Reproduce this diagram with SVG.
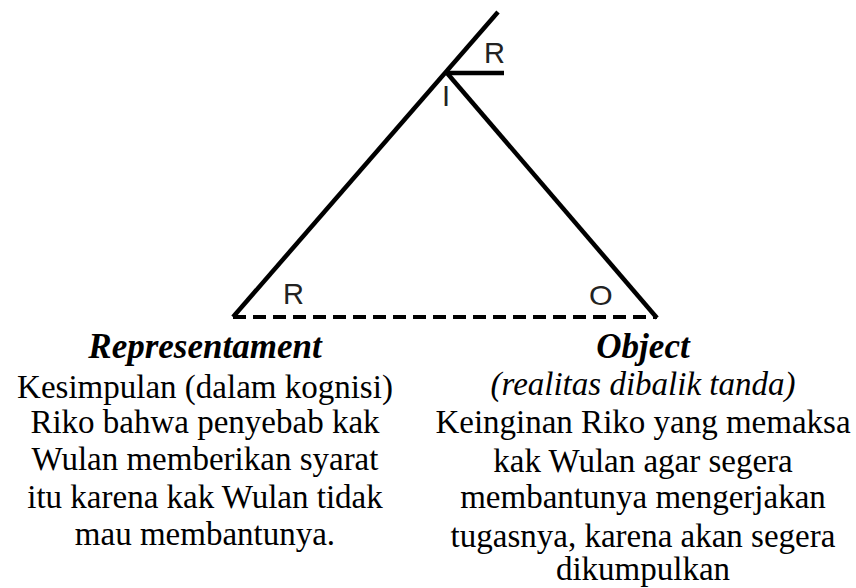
<svg xmlns="http://www.w3.org/2000/svg" width="856" height="588" viewBox="0 0 856 588">
<style>
.ln{stroke:#000;stroke-width:4.5;fill:none;stroke-linecap:butt}
.dash{stroke:#000;stroke-width:4;fill:none;stroke-dasharray:13 7}
.lbl{font-family:"Liberation Sans",Arial,sans-serif;font-size:29px;fill:#222}
.t{font-family:"Liberation Serif","Times New Roman",serif;font-size:33px;fill:#000;text-anchor:middle}
.h{font-weight:bold;font-style:italic;font-size:35px}
.i{font-style:italic}
</style>
<rect width="856" height="588" fill="#fff"/>
<g id="connectors">
<line class="ln" x1="233" y1="317" x2="498" y2="12"/>
<line class="ln" x1="447" y1="73" x2="657" y2="318"/>
<line class="ln" x1="447" y1="73" x2="504" y2="73"/>
<line class="dash" x1="233" y1="317" x2="657" y2="317"/>
</g>
<g id="interpretant">
<text class="lbl" x="484" y="63">R</text>
<text class="lbl" x="442" y="106">I</text>
</g>
<g id="representament">
<text class="lbl" x="283" y="304">R</text>
<text class="t h" x="205" y="358">Representament</text>
<text class="t" x="205" y="398">Kesimpulan (dalam kognisi)</text>
<text class="t" x="205" y="433">Riko bahwa penyebab kak</text>
<text class="t" x="205" y="470">Wulan memberikan syarat</text>
<text class="t" x="205" y="508">itu karena kak Wulan tidak</text>
<text class="t" x="205" y="545">mau membantunya.</text>
</g>
<g id="object">
<text class="lbl" x="0" y="0" transform="translate(589 305) scale(1.05 0.95)">O</text>
<text class="t h" x="643" y="358">Object</text>
<text class="t i" x="643" y="395">(realitas dibalik tanda)</text>
<text class="t" x="643" y="433">Keinginan Riko yang memaksa</text>
<text class="t" x="643" y="472">kak Wulan agar segera</text>
<text class="t" x="643" y="508">membantunya mengerjakan</text>
<text class="t" x="643" y="547">tugasnya, karena akan segera</text>
<text class="t" x="643" y="580">dikumpulkan</text>
</g>
</svg>
